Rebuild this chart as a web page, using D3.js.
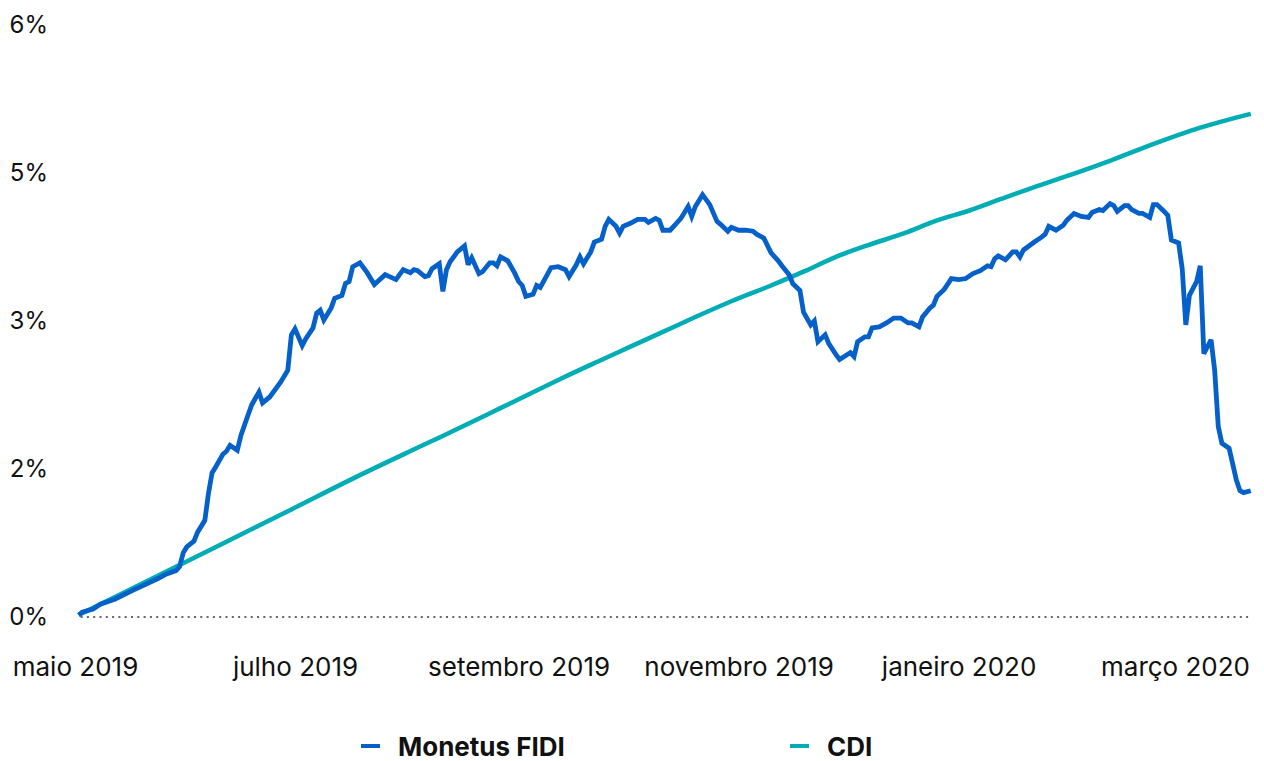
<!DOCTYPE html>
<html>
<head>
<meta charset="utf-8">
<script src="https://cdn.jsdelivr.net/npm/d3@7"></script>
<style>
  html, body { margin: 0; padding: 0; background: #fff; }
  svg { display: block; font-family: Inter, "Noto Sans", sans-serif; }
</style>
</head>
<body>
<svg id="chart" width="1264" height="761"></svg>
<script>
// ---------------- data ----------------
const fidiDates = [
  "2019-05-02","2019-05-03","2019-05-06","2019-05-08","2019-05-12","2019-05-17","2019-05-20","2019-05-24","2019-05-26","2019-05-29","2019-05-30","2019-05-31",
  "2019-06-01","2019-06-03","2019-06-04","2019-06-06","2019-06-07","2019-06-08","2019-06-09","2019-06-11","2019-06-12","2019-06-13","2019-06-15","2019-06-16","2019-06-18","2019-06-19","2019-06-21","2019-06-22","2019-06-24","2019-06-27","2019-06-29","2019-06-30",
  "2019-07-01","2019-07-03","2019-07-04","2019-07-06","2019-07-07","2019-07-08","2019-07-09","2019-07-11","2019-07-12","2019-07-14","2019-07-15","2019-07-16","2019-07-17","2019-07-19","2019-07-21","2019-07-23","2019-07-26","2019-07-29","2019-07-31",
  "2019-08-02","2019-08-03","2019-08-04","2019-08-06","2019-08-07","2019-08-08","2019-08-10","2019-08-11","2019-08-12","2019-08-13","2019-08-15","2019-08-17","2019-08-18","2019-08-19","2019-08-21","2019-08-22","2019-08-24","2019-08-25","2019-08-26","2019-08-27","2019-08-29","2019-08-31",
  "2019-09-01","2019-09-02","2019-09-03","2019-09-05","2019-09-06","2019-09-07","2019-09-10","2019-09-12","2019-09-14","2019-09-15","2019-09-17","2019-09-18","2019-09-19","2019-09-21","2019-09-22","2019-09-24","2019-09-25","2019-09-26","2019-09-28","2019-09-29","2019-09-30",
  "2019-10-02","2019-10-04","2019-10-06","2019-10-07","2019-10-09","2019-10-10","2019-10-11","2019-10-13","2019-10-14","2019-10-16","2019-10-18","2019-10-19","2019-10-20","2019-10-22","2019-10-24","2019-10-26","2019-10-27","2019-10-29","2019-10-30",
  "2019-11-01","2019-11-03","2019-11-05","2019-11-06","2019-11-08","2019-11-10","2019-11-12","2019-11-13","2019-11-15","2019-11-16","2019-11-18","2019-11-19","2019-11-21","2019-11-22","2019-11-23","2019-11-25","2019-11-26","2019-11-28","2019-11-29",
  "2019-12-02","2019-12-03","2019-12-04","2019-12-06","2019-12-07","2019-12-08","2019-12-10","2019-12-12","2019-12-14","2019-12-16","2019-12-18","2019-12-19","2019-12-21","2019-12-22","2019-12-24","2019-12-25","2019-12-26","2019-12-28","2019-12-30",
  "2020-01-01","2020-01-03","2020-01-05","2020-01-07","2020-01-09","2020-01-10","2020-01-11","2020-01-12","2020-01-14","2020-01-16","2020-01-17","2020-01-18","2020-01-19","2020-01-22","2020-01-24","2020-01-25","2020-01-26","2020-01-28","2020-01-30","2020-01-31",
  "2020-02-02","2020-02-04","2020-02-06","2020-02-07","2020-02-09","2020-02-10","2020-02-12","2020-02-13","2020-02-14","2020-02-16","2020-02-17","2020-02-18","2020-02-20","2020-02-21","2020-02-23","2020-02-24","2020-02-25","2020-02-27","2020-02-28","2020-02-29",
  "2020-03-02","2020-03-03","2020-03-04","2020-03-05","2020-03-07","2020-03-08","2020-03-09","2020-03-11","2020-03-12","2020-03-13","2020-03-14","2020-03-16","2020-03-18","2020-03-19","2020-03-20","2020-03-22"
];
const fidiValues = [
  0.02,0.05,0.08,0.13,0.18,0.27,0.32,0.39,0.43,0.47,0.51,0.65,
  0.71,0.77,0.86,0.98,1.25,1.46,1.52,1.65,1.68,1.74,1.69,1.84,2.05,2.15,2.28,2.17,2.23,2.38,2.50,2.86,
  2.92,2.75,2.82,2.93,3.08,3.11,3.01,3.13,3.23,3.26,3.38,3.40,3.55,3.59,3.49,3.37,3.47,3.42,3.52,
  3.49,3.52,3.51,3.45,3.46,3.53,3.58,3.30,3.52,3.60,3.70,3.76,3.57,3.64,3.48,3.50,3.59,3.59,3.56,3.65,3.61,3.48,
  3.40,3.36,3.25,3.27,3.36,3.34,3.54,3.55,3.52,3.45,3.57,3.65,3.58,3.70,3.80,3.83,3.96,4.03,3.96,3.89,3.96,
  3.99,4.03,4.03,4.00,4.04,4.02,3.92,3.92,3.96,4.04,4.16,4.06,4.16,4.28,4.18,4.01,3.98,3.91,3.95,
  3.92,3.92,3.91,3.88,3.84,3.69,3.61,3.56,3.47,3.38,3.31,3.09,2.96,3.00,2.79,2.86,2.77,2.66,2.61,
  2.68,2.64,2.79,2.84,2.84,2.93,2.94,2.98,3.03,3.03,2.98,2.98,2.94,3.04,3.13,3.16,3.25,3.32,3.43,
  3.42,3.43,3.48,3.51,3.56,3.55,3.63,3.66,3.62,3.70,3.70,3.65,3.72,3.80,3.85,3.88,3.96,3.92,3.97,4.02,
  4.09,4.06,4.05,4.10,4.13,4.12,4.19,4.17,4.11,4.17,4.17,4.13,4.09,4.09,4.05,4.18,4.18,4.11,4.07,3.82,
  3.79,3.53,2.96,3.26,3.40,3.56,2.67,2.81,2.50,1.93,1.76,1.71,1.39,1.28,1.26,1.28
];

const cdiDates = [
  "2019-05-02","2019-05-29","2019-06-30","2019-07-18","2019-08-06","2019-08-17","2019-08-26","2019-09-04",
  "2019-09-13","2019-09-23","2019-10-02","2019-10-11","2019-10-20","2019-10-30","2019-11-10","2019-11-19",
  "2019-11-28","2019-12-07","2019-12-17","2019-12-26","2020-01-04","2020-01-13","2020-01-23","2020-02-01",
  "2020-02-11","2020-02-23","2020-03-08","2020-03-22"
];
const cdiValues = [
  0.02,0.51,1.09,1.42,1.75,1.94,2.10,2.26,
  2.42,2.59,2.74,2.89,3.04,3.20,3.36,3.50,
  3.65,3.77,3.89,4.02,4.12,4.24,4.37,4.48,
  4.61,4.78,4.96,5.10
];

const yTickValues = [0, 1.5, 3, 4.5, 6];
const yTickLabels = ["0%", "2%", "3%", "5%", "6%"];

const xTickDates = ["2019-05-01","2019-07-01","2019-09-01","2019-11-01","2020-01-01","2020-03-01"];
const xTickLabels = ["maio 2019","julho 2019","setembro 2019","novembro 2019","janeiro 2020","março 2020"];

const seriesNames = ["Monetus FIDI", "CDI"];
const seriesColors = ["#0560c9", "#00adb5"];

// ---------------- chart ----------------
const parse = d3.timeParse("%Y-%m-%d");
const fidi = fidiDates.map((d, i) => ({ date: parse(d), value: fidiValues[i] }));
const cdi = cdiDates.map((d, i) => ({ date: parse(d), value: cdiValues[i] }));

const svg = d3.select("#chart");

const x = d3.scaleTime()
  .domain([parse("2019-05-01"), parse("2020-03-01")])
  .range([75, 1175]);
const y = d3.scaleLinear().domain([0, 6]).range([617, 25]);

// zero reference line (dotted)
svg.append("line")
  .attr("x1", x(fidi[0].date) + 2)
  .attr("x2", x(fidi[fidi.length - 1].date))
  .attr("y1", y(0)).attr("y2", y(0))
  .attr("stroke", "#666")
  .attr("stroke-width", 2)
  .attr("stroke-dasharray", "2,4.3");

// y axis
const yAxis = svg.append("g")
  .attr("transform", "translate(48,0)")
  .call(d3.axisLeft(y).tickValues(yTickValues)
    .tickFormat((d, i) => yTickLabels[i]).tickSize(0).tickPadding(0));
yAxis.select(".domain").remove();
yAxis.selectAll("text")
  .attr("fill", "#111")
  .style("font-size", "24px")
  .style("font-family", "Inter, 'Noto Sans', sans-serif");

// x axis
const xAxis = svg.append("g")
  .attr("transform", "translate(0,657.5)")
  .call(d3.axisBottom(x).tickValues(xTickDates.map(parse))
    .tickFormat((d, i) => xTickLabels[i]).tickSize(0).tickPadding(0));
xAxis.select(".domain").remove();
xAxis.selectAll("text")
  .attr("fill", "#111")
  .style("font-size", "26px")
  .style("font-family", "Inter, 'Noto Sans', sans-serif");

// lines
const line = d3.line().x(d => x(d.date)).y(d => y(d.value));
const smoothLine = d3.line().x(d => x(d.date)).y(d => y(d.value)).curve(d3.curveMonotoneX);

svg.append("path")
  .datum(cdi)
  .attr("fill", "none")
  .attr("stroke", seriesColors[1])
  .attr("stroke-width", 4.5)
  .attr("stroke-linejoin", "round")
  .attr("d", smoothLine);

svg.append("path")
  .datum(fidi)
  .attr("fill", "none")
  .attr("stroke", seriesColors[0])
  .attr("stroke-width", 4.8)
  .attr("stroke-linejoin", "miter")
  .attr("stroke-miterlimit", 3)
  .attr("d", line);

// legend
const legendX = [361, 790];
const legend = svg.append("g").selectAll("g")
  .data(seriesNames)
  .join("g")
  .attr("transform", (d, i) => `translate(${legendX[i]},746)`);
legend.append("line")
  .attr("x1", 0).attr("x2", 19)
  .attr("y1", 0).attr("y2", 0)
  .attr("stroke", (d, i) => seriesColors[i])
  .attr("stroke-width", 4);
legend.append("text")
  .attr("x", 37)
  .attr("y", 10)
  .attr("fill", "#111")
  .style("font-size", "26px")
  .style("font-weight", "700")
  .text(d => d);
</script>
</body>
</html>
